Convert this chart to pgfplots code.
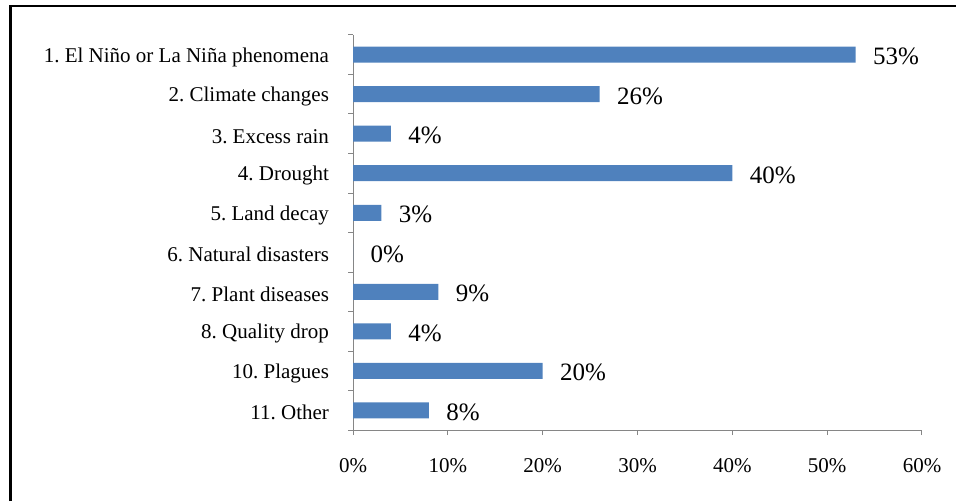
\documentclass[border=0pt]{standalone}
\usepackage{fontspec}
\setmainfont{Liberation Serif}
\newfontfamily\tnr{Liberation Serif}
\usepackage{pgfplots}
\pgfplotsset{compat=1.18}
\definecolor{barblue}{HTML}{4F81BD}
\definecolor{axgray}{HTML}{868686}
\begin{document}
\frenchspacing
\begin{tikzpicture}
\begin{axis}[
  at={(353pt,71pt)}, anchor=south west,
  scale only axis, width=569pt, height=395pt,
  xbar, bar width=16pt,
  xmin=0, xmax=60, ymin=-0.5, ymax=9.5, y dir=reverse,
  clip=false,
  axis lines=left, axis line style={-, axgray, line width=1pt},
  tick align=outside, tick style={axgray, line width=1pt},
  major tick length=5pt,
  xtick={0,10,...,60},
  xticklabels={0\%,10\%,20\%,30\%,40\%,50\%,60\%},
  xticklabel style={font=\tnr\fontsize{21}{25}\selectfont, text=black, yshift=-20pt},
  ytick={-0.5,0.5,...,9.5},
  yticklabels={},
  extra y ticks={0,1,2,3,4,5,6,7,8,9},
  extra y tick labels={1. El Niño or La Niña phenomena, 2. Climate changes, 3. Excess rain, 4. Drought, 5. Land decay, 6. Natural disasters, 7. Plant diseases, 8. Quality drop, 10. Plagues, 11. Other},
  extra y tick style={major tick length=0pt, yticklabel style={font=\tnr\fontsize{21}{25}\selectfont, text=black, xshift=-20.5pt, yshift=-2.5pt}},
  point meta=x,
  nodes near coords={\pgfmathprintnumber[assume math mode=true]{\pgfplotspointmeta}\%},
  every node near coord/.append style={anchor=west, text=black, font=\tnr\fontsize{25}{30}\selectfont, xshift=14pt, yshift=-2pt},
]
\addplot[fill=barblue, draw=none] coordinates {
  (53,0) (26,1) (4,2) (40,3) (3,4) (0,5) (9,6) (4,7) (20,8) (8,9)
};
\end{axis}
\draw[black, line width=2.5pt] (10.5pt,0pt) -- (10.5pt,495pt) -- (956pt,495pt);
\pgfresetboundingbox
\path[use as bounding box] (0pt,0pt) rectangle (956pt,501pt);
\end{tikzpicture}
\end{document}
